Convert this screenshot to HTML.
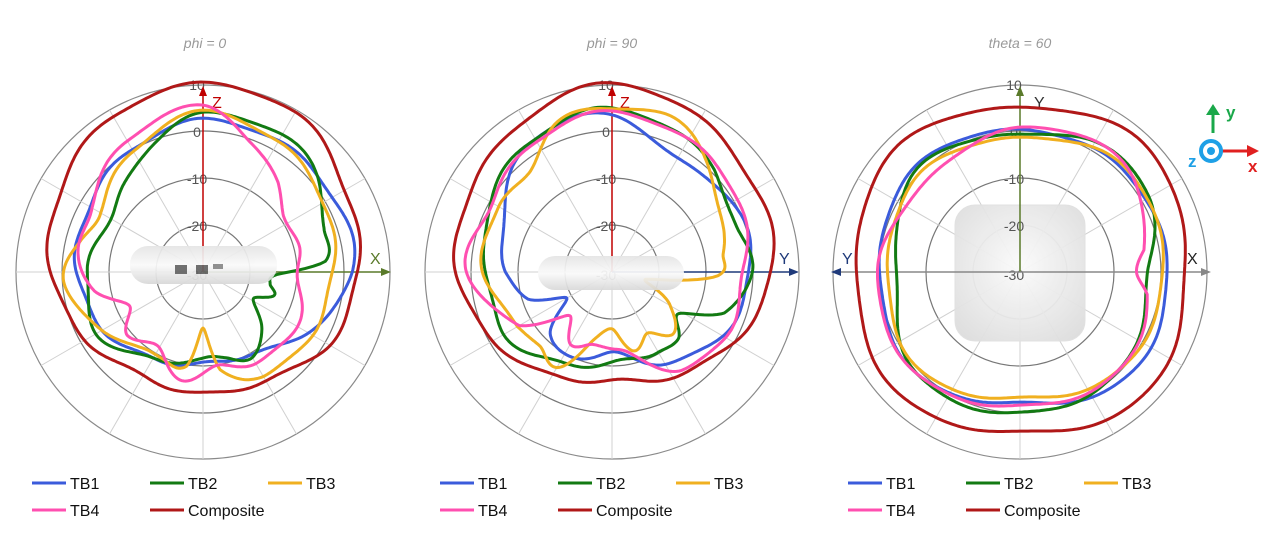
<!DOCTYPE html>
<html><head><meta charset="utf-8"><style>
body{margin:0;background:#fff;width:1280px;height:531px;overflow:hidden;font-family:"Liberation Sans",sans-serif}
</style></head><body>
<svg id="s" width="1280" height="531" xmlns="http://www.w3.org/2000/svg">
<defs>
<linearGradient id="dv" x1="0" y1="0" x2="0" y2="1"><stop offset="0" stop-color="#e4e4e4"/><stop offset="0.5" stop-color="#fafafa"/><stop offset="1" stop-color="#d8d8d8"/></linearGradient>
<radialGradient id="sq" cx="0.5" cy="0.45" r="0.7"><stop offset="0" stop-color="#fbfbfb"/><stop offset="1" stop-color="#dcdcdc"/></radialGradient>
</defs>
<g font-style="italic" fill="#999" font-size="14" text-anchor="middle">
<text x="205" y="48">phi = 0</text><text x="612" y="48">phi = 90</text><text x="1020" y="48">theta = 60</text>
</g>
<g id="grids"></g>
<rect x="955" y="205" width="130" height="136" rx="20" fill="url(#sq)" stroke="#e0e0e0" opacity="0.95"/>
<g id="labels" font-size="14" fill="#555" text-anchor="middle"></g>
<g id="axes">
<line x1="203" y1="272" x2="203" y2="92" stroke="#c00000" stroke-width="1.5"/><polygon points="203,86 199,96 207,96" fill="#c00000"/>
<text x="212" y="108" fill="#c00000" font-size="16">Z</text>
<line x1="203" y1="272" x2="384" y2="272" stroke="#5a7a2a" stroke-width="1.5"/><polygon points="391,272 381,268 381,276" fill="#5a7a2a"/>
<text x="370" y="264" fill="#5a7a2a" font-size="16">X</text>
<line x1="612" y1="272" x2="612" y2="92" stroke="#c00000" stroke-width="1.5"/><polygon points="612,86 608,96 616,96" fill="#c00000"/>
<text x="620" y="108" fill="#c00000" font-size="16">Z</text>
<line x1="612" y1="272" x2="792" y2="272" stroke="#1f3a7a" stroke-width="1.5"/><polygon points="799,272 789,268 789,276" fill="#1f3a7a"/>
<text x="779" y="264" fill="#1f3a7a" font-size="16">Y</text>
<line x1="1020" y1="272" x2="1020" y2="92" stroke="#5a7a2a" stroke-width="1.5"/><polygon points="1020,86 1016,96 1024,96" fill="#5a7a2a"/>
<text x="1034" y="108" fill="#333" font-size="16">Y</text>
<line x1="838" y1="272" x2="1205" y2="272" stroke="#888" stroke-width="1.5"/><polygon points="831,272 841,268 841,276" fill="#1f3a7a"/><polygon points="1211,272 1201,268 1201,276" fill="#888"/>
<text x="842" y="264" fill="#1f3a7a" font-size="16">Y</text><text x="1187" y="264" fill="#222" font-size="16">X</text>
</g>
<g id="curves" fill="none" stroke-width="3" stroke-linejoin="round"></g>
<g opacity="0.93">
<rect x="130" y="246" width="147" height="38" rx="18" fill="url(#dv)"/>
<rect x="175" y="265" width="12" height="9" fill="#666"/><rect x="196" y="265" width="12" height="9" fill="#666"/><rect x="213" y="264" width="10" height="5" fill="#888"/>
<rect x="538" y="256" width="146" height="34" rx="17" fill="url(#dv)"/>
</g>
<g>
<line x1="1213" y1="133" x2="1213" y2="112" stroke="#1aa84a" stroke-width="3"/><polygon points="1213,104 1206,115 1220,115" fill="#1aa84a"/>
<text x="1226" y="118" fill="#1aa84a" font-size="17" font-weight="bold">y</text>
<line x1="1222" y1="151" x2="1248" y2="151" stroke="#e02020" stroke-width="3"/><polygon points="1259,151 1247,145 1247,157" fill="#e02020"/>
<text x="1248" y="172" fill="#e02020" font-size="17" font-weight="bold">x</text>
<circle cx="1211" cy="151" r="10" fill="#fff" stroke="#1ea0e6" stroke-width="4"/><circle cx="1211" cy="151" r="4" fill="#1ea0e6"/>
<text x="1188" y="167" fill="#1ea0e6" font-size="17" font-weight="bold">z</text>
</g>
<g id="leg" font-size="16" fill="#111"></g>
</svg>
<script>
var NS="http://www.w3.org/2000/svg";
function el(p,t,a,txt){var e=document.createElementNS(NS,t);for(var k in a)e.setAttribute(k,a[k]);if(txt)e.textContent=txt;document.getElementById(p).appendChild(e);return e;}
var C=[[203,272],[612,272],[1020,272]];
C.forEach(function(c){
 [47,94,141,187].forEach(function(r,i){el("grids","circle",{cx:c[0],cy:c[1],r:r,fill:"none",stroke:i==3?"#8a8a8a":"#777","stroke-width":1.2});});
 for(var a=0;a<360;a+=30){var t=a*Math.PI/180;el("grids","line",{x1:c[0],y1:c[1],x2:c[0]+187*Math.sin(t),y2:c[1]-187*Math.cos(t),stroke:"#d0d0d0","stroke-width":1});}
 [["10",85],["0",132],["-10",179],["-20",226],["-30",275]].forEach(function(l){el("labels","text",{x:c[0]-6,y:l[1]+5},l[0]);});
});
function path(c,pts,w){
 var n=pts.length,d="";
 function R(a){
  var i=n-1;for(var j=0;j<n;j++){if(pts[j][0]<=a)i=j;}
  var p0=pts[(i-1+n)%n],p1=pts[i],p2=pts[(i+1)%n],p3=pts[(i+2)%n];
  var a1=p1[0],a2=p2[0];if(a2<=a1)a2+=360;var aa=a;if(aa<a1)aa+=360;
  var t=(aa-a1)/(a2-a1);
  var v0=p0[1],v1=p1[1],v2=p2[1],v3=p3[1];
  return 0.5*((2*v1)+(-v0+v2)*t+(2*v0-5*v1+4*v2-v3)*t*t+(-v0+3*v1-3*v2+v3)*t*t*t);
 }
 for(var a=0;a<360;a+=1){var r=R(a)+w*Math.sin(a*Math.PI/180*9+c[0]);var t=a*Math.PI/180;
  d+=(a?"L":"M")+(c[0]+r*Math.sin(t)).toFixed(1)+","+(c[1]-r*Math.cos(t)).toFixed(1);}
 return d+"Z";
}
var col={b:"#3b5bdb",g:"#127a12",y:"#f0b020",p:"#ff4fb0",r:"#b01818"};
var D=[
 {y:[[0,160],[30,150],[60,140],[90,130],[120,125],[150,120],[170,100],[180,58],[190,95],[205,95],[220,100],[240,115],[265,140],[285,125],[300,120],[330,140]],
  b:[[0,152],[45,150],[90,150],[120,120],[150,95],[180,92],[210,100],[240,115],[270,126],[300,132],[330,142]],
  g:[[0,158],[30,158],[50,150],[70,128],[85,122],[92,75],[100,70],[108,75],[118,55],[135,85],[150,98],[165,88],[180,88],[210,100],[240,122],[270,115],[300,108],[320,118],[340,140]],
  p:[[0,165],[20,140],[40,115],[55,100],[75,98],[90,95],[110,105],[130,108],[150,105],[170,95],[190,110],[210,88],[230,98],[245,80],[260,112],[280,125],[300,130],[330,152]],
  r:[[0,188],[30,184],[60,165],[90,155],[120,145],[150,125],[180,122],[210,120],[240,135],[270,152],[300,165],[330,180]]},
 {y:[[0,162],[20,168],[40,145],[60,125],[80,112],[92,108],[102,35],[120,66],[135,89],[150,69],[165,82],[180,58],[195,68],[210,112],[225,103],[240,108],[270,128],[300,132],[320,128],[340,161]],
  b:[[0,156],[30,130],[60,140],[90,138],[120,127],[150,105],[180,81],[210,96],[225,87],[240,51],[252,90],[270,105],[300,125],[330,155]],
  g:[[0,163],[45,145],[70,131],[90,142],[110,118],[122,78],[135,96],[150,91],[180,91],[210,105],[240,124],[270,125],[300,141],[330,155]],
  p:[[0,160],[30,152],[60,146],[90,132],[120,130],[145,120],[165,87],[180,78],[195,73],[210,85],[225,61],[240,106],[270,144],[300,139],[330,152]],
  r:[[0,188],[45,170],[90,160],[135,130],[180,109],[225,128],[270,155],[315,168]]},
 {y:[[0,134],[45,148],[90,143],[135,140],[180,126],[225,140],[270,132],[315,140]],
  b:[[0,142],[45,145],[100,148],[135,150],[180,131],[225,145],[270,140],[315,148]],
  g:[[0,137],[30,150],[60,150],[90,128],[135,140],[180,141],[225,145],[270,123],[315,145]],
  p:[[0,144],[45,150],[80,125],[90,117],[100,130],[135,140],[180,134],[225,145],[270,142],[315,130]],
  r:[[0,164],[45,178],[90,165],[135,175],[180,160],[225,172],[270,163],[315,175]]}
];
D.forEach(function(s,i){["r","b","g","y","p"].forEach(function(k){
 el("curves","path",{d:path(C[i],s[k],i==2?1.0:2.0),stroke:col[k]});});});
[0,408,816].forEach(function(o){
 [[32,483,"b","TB1"],[150,483,"g","TB2"],[268,483,"y","TB3"],[32,510,"p","TB4"],[150,510,"r","Composite"]].forEach(function(l){
  el("leg","line",{x1:o+l[0],y1:l[1],x2:o+l[0]+34,y2:l[1],stroke:col[l[2]],"stroke-width":3});
  el("leg","text",{x:o+l[0]+38,y:l[1]+6},l[3]);});
});
</script>
</body></html>
